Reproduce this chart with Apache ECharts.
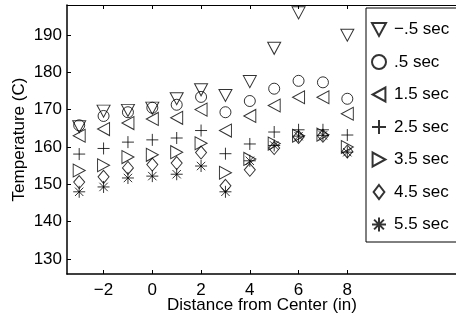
<!DOCTYPE html>
<html>
<head>
<meta charset="utf-8">
<script src="https://cdn.jsdelivr.net/npm/echarts@6/dist/echarts.min.js"></script>
<style>
html,body{margin:0;padding:0;background:#fff;}
#chart{width:456px;height:322px;}
</style>
</head>
<body>
<div id="chart"></div>
<script>
var xPositions = [-3, -2, -1, 0, 1, 2, 3, 4, 5, 6, 7, 8];
var seriesNames = ['\u2212.5 sec', '.5 sec', '1.5 sec', '2.5 sec', '3.5 sec', '4.5 sec', '5.5 sec'];
var tMinus05 = [165.4, 169.6, 169.8, 170.4, 172.9, 175.3, 173.8, 177.5, 186.4, 195.9, null, 189.9];
var t05 = [165.8, 168.3, 169.3, 170.5, 171.3, 173.4, 169.3, 172.3, 175.6, 177.7, 177.3, 172.9];
var t15 = [163.0, 164.8, 166.4, 167.5, 167.8, 170.0, 164.4, 168.3, 171.1, 173.3, 173.3, 168.9];
var t25 = [158.1, 159.6, 161.3, 161.9, 162.4, 164.4, 158.2, 160.8, 164.0, 164.6, 164.6, 163.2];
var t35 = [153.7, 155.1, 157.3, 157.9, 158.6, 161.0, 153.1, 156.8, 160.9, 163.0, 163.3, 160.0];
var t45 = [150.6, 152.0, 154.4, 155.3, 155.7, 158.5, 149.6, 153.9, 159.7, 162.7, 163.0, 158.8];
var t55 = [148.0, 149.3, 151.7, 152.2, 152.7, 154.9, 148.0, 156.3, 160.4, 162.9, 163.1, 158.6];
var xTicks = [-2, 0, 2, 4, 6, 8];
var yTicks = [130, 140, 150, 160, 170, 180, 190];

var allValues = [tMinus05, t05, t15, t25, t35, t45, t55];
var symbols = [
  'path://M0,0L12,0L6,11Z',
  'circle',
  'path://M11,0L11,12L0,6Z',
  'path://M0,6L12,6M6,0L6,12',
  'path://M0,0L0,12L11,6Z',
  'path://M5,0L10,6.5L5,13L0,6.5Z',
  'path://M0,6L12,6M6,0L6,12M1.8,1.8L10.2,10.2M10.2,1.8L1.8,10.2'
];
var sizes = [[13,12],[11,11],[12,13],[12,12],[12,13],[11,13],[12,12]];

var FONT = 'Liberation Sans, Arial, Helvetica, sans-serif';

var series = allValues.map(function (vals, i) {
  return {
    name: seriesNames[i],
    type: 'scatter',
    symbol: symbols[i],
    symbolSize: sizes[i],
    clip: true,
    data: xPositions.map(function (x, j) { return [x, vals[j]]; }),
    itemStyle: { color: 'rgba(0,0,0,0)', borderColor: '#000', borderWidth: 1 },
    emphasis: { disabled: true }
  };
});

var chart = echarts.init(document.getElementById('chart'), null, { renderer: 'canvas' });
chart.setOption({
  animation: false,
  backgroundColor: '#fff',
  grid: { left: 67, top: 5, width: 390, height: 269, containLabel: false, outerBoundsMode: 'none' },
  xAxis: [{
    type: 'value', min: -3.5, max: 12.5, position: 'bottom',
    name: 'Distance from Center (in)', nameLocation: 'middle', nameGap: 23, nameMoveOverlap: false,
    nameTextStyle: { color: '#000', fontSize: 17, fontFamily: FONT },
    axisLine: { show: true, onZero: false, lineStyle: { color: '#000', width: 1.5 } },
    axisTick: { show: true, inside: true, length: 4, customValues: xTicks, lineStyle: { color: '#000' } },
    axisLabel: { show: true, customValues: xTicks, color: '#000', fontSize: 17, fontFamily: FONT, margin: 8,
      formatter: function (v) { return v < 0 ? '\u2212' + Math.abs(v) : String(v); } },
    splitLine: { show: false }
  }, {
    type: 'value', min: -3.5, max: 12.5, position: 'top',
    axisLine: { show: true, onZero: false, lineStyle: { color: '#000', width: 1 } },
    axisTick: { show: true, inside: true, length: 4, customValues: xTicks, lineStyle: { color: '#000' } },
    axisLabel: { show: false },
    splitLine: { show: false }
  }],
  yAxis: {
    type: 'value', min: 126, max: 198,
    name: 'Temperature (C)', nameLocation: 'middle', nameGap: 39, nameMoveOverlap: false,
    nameTextStyle: { color: '#000', fontSize: 17, fontFamily: FONT },
    axisLine: { show: true, onZero: false, lineStyle: { color: '#000', width: 1.5 } },
    axisTick: { show: true, inside: true, length: 4, customValues: yTicks, lineStyle: { color: '#000' } },
    axisLabel: { show: true, customValues: yTicks, color: '#000', fontSize: 17, fontFamily: FONT, margin: 5 },
    splitLine: { show: false }
  },
  legend: {
    orient: 'vertical', left: 366, top: 8,
    padding: [13, 40, 9, 5],
    itemWidth: 14, itemHeight: 14, itemGap: 15.5,
    backgroundColor: '#fff', borderColor: '#000', borderWidth: 1,
    selectedMode: false,
    textStyle: { color: '#000', fontSize: 17, fontFamily: FONT, lineHeight: 14, padding: [0, 0, 0, 3] },
    data: seriesNames
  },
  series: series
});
</script>
</body>
</html>
